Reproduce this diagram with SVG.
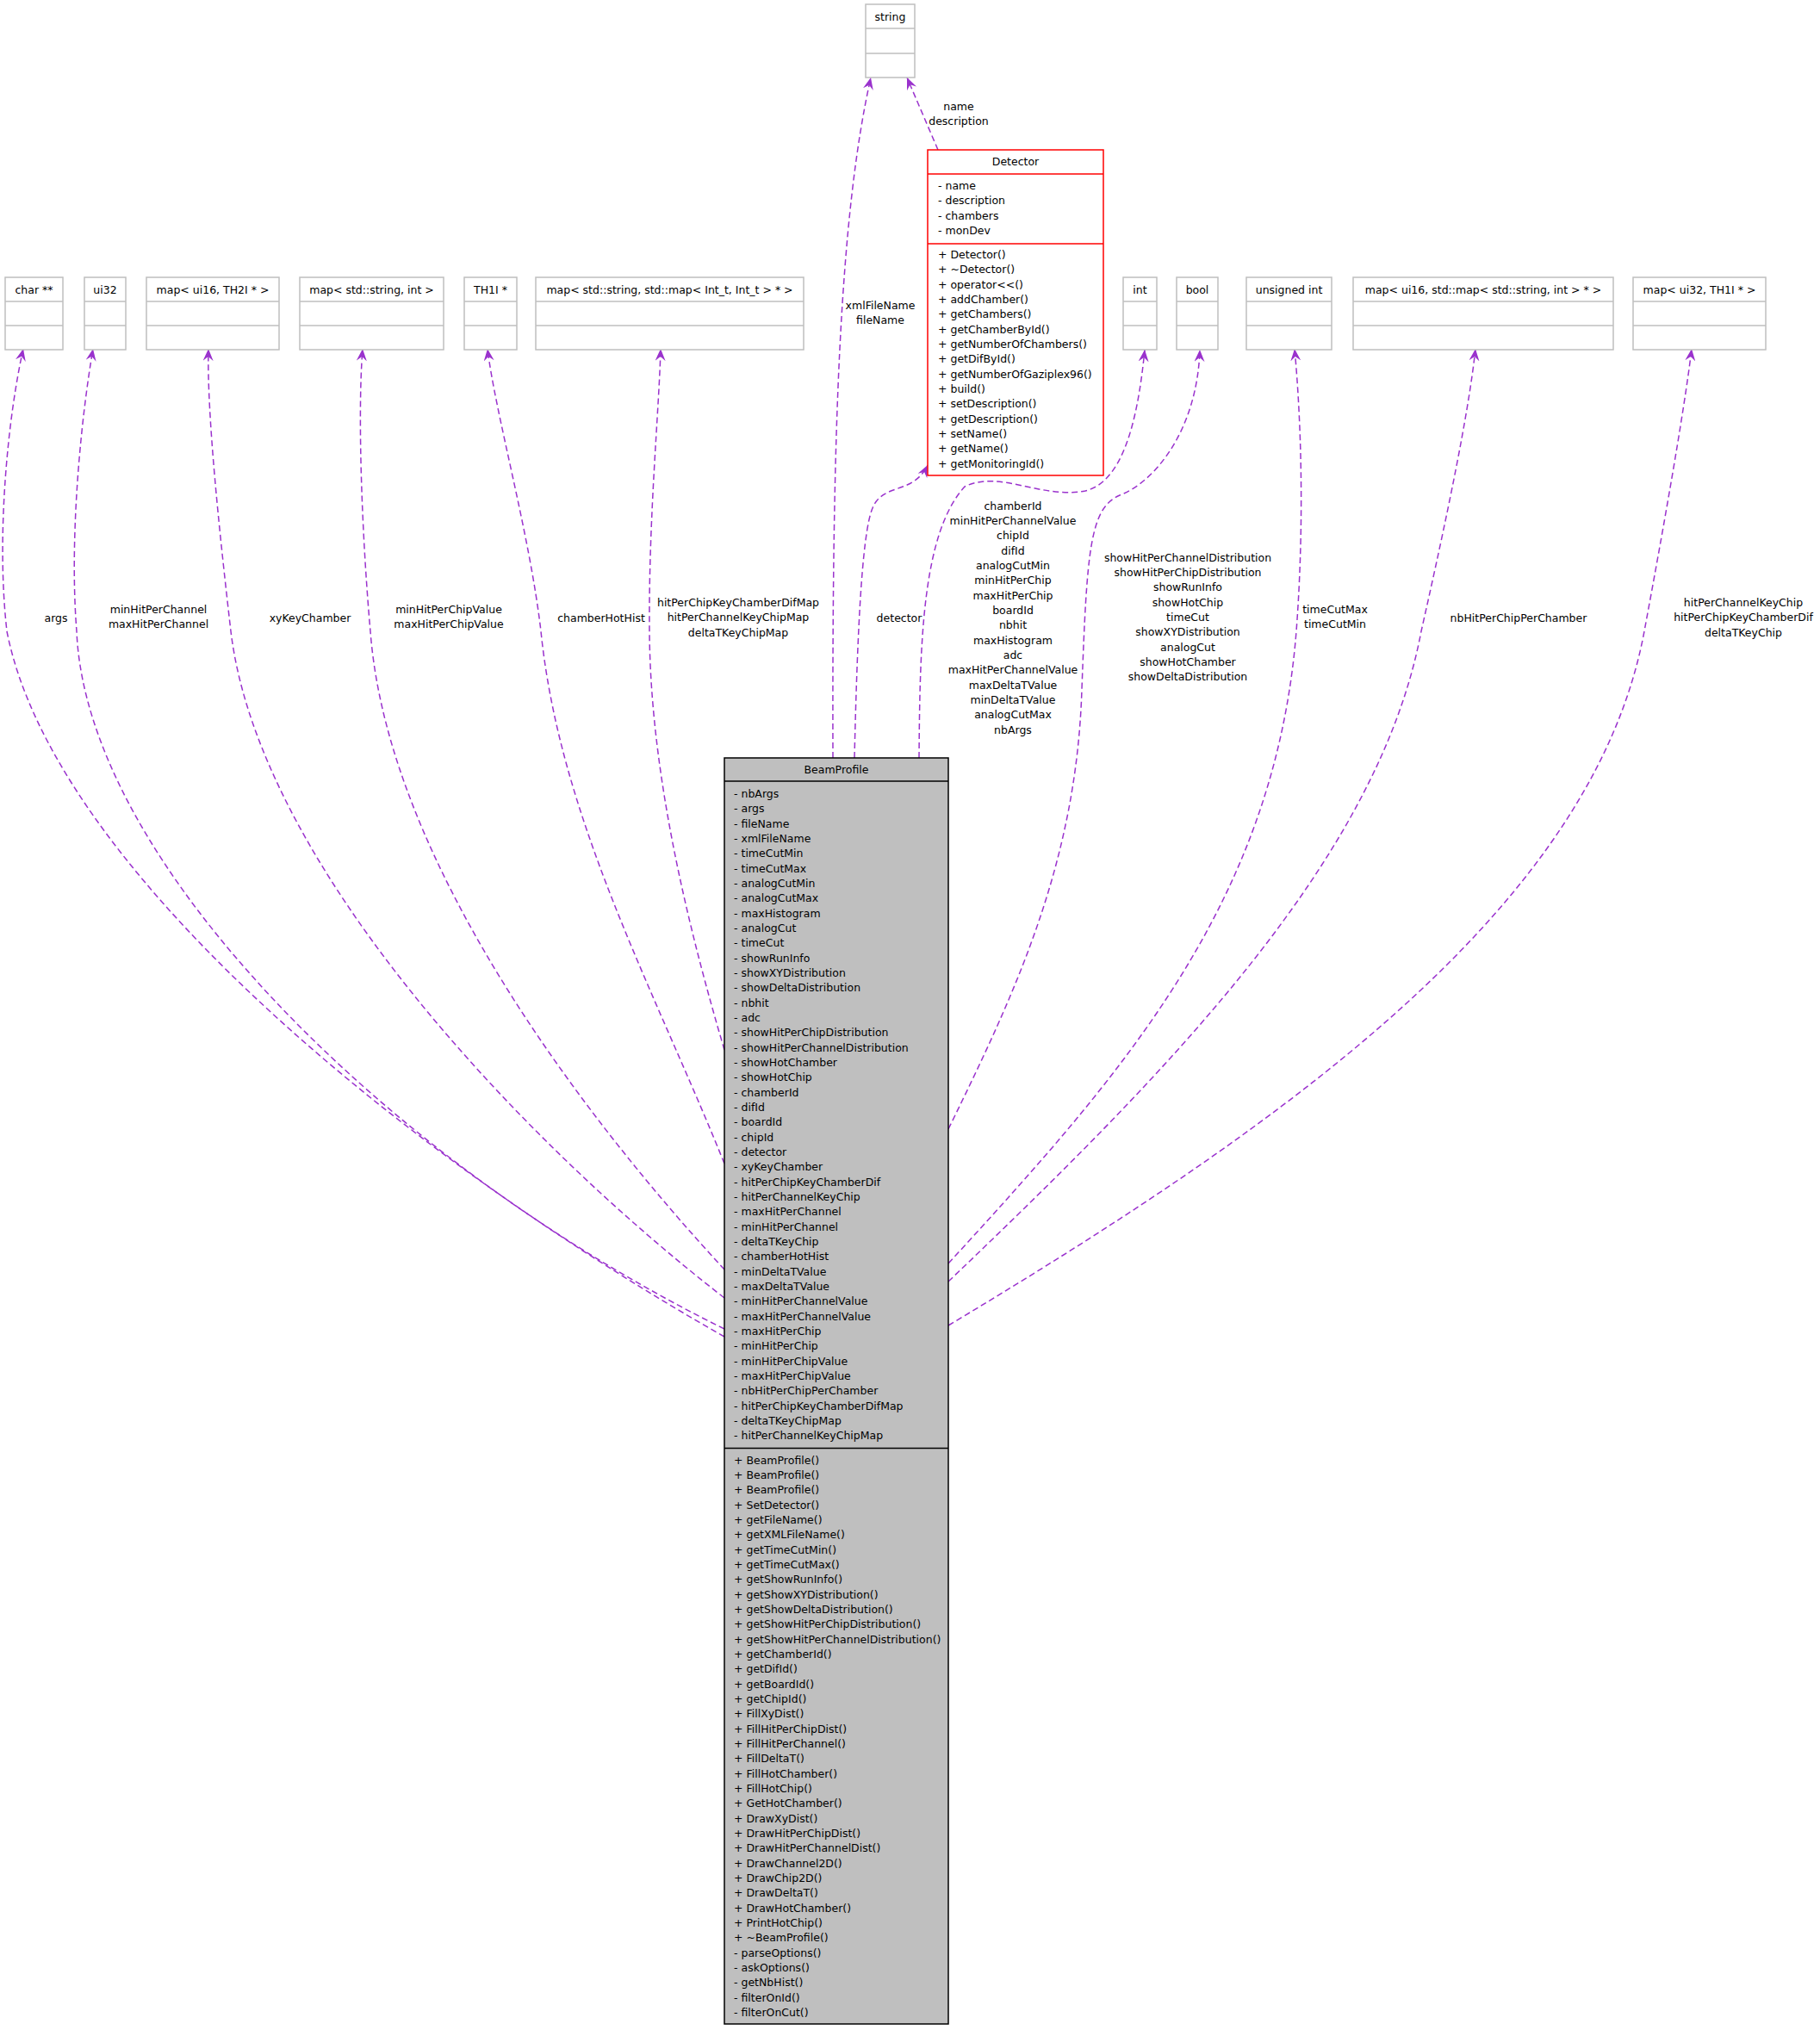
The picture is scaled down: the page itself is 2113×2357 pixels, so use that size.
<svg xmlns="http://www.w3.org/2000/svg" width="2113" height="2357" viewBox="0 0 2113 2357">
<style>
text{font-family:"DejaVu Sans","Liberation Sans",sans-serif;font-size:12.5px;fill:#000}
.c{text-anchor:middle}
.t{fill:#fff;stroke:#bfbfbf;stroke-width:1.5}
.e{fill:none;stroke:#9a32cd;stroke-width:1.5;stroke-dasharray:7,4;marker-end:url(#a)}
</style>
<defs>
<marker id="a" markerUnits="userSpaceOnUse" markerWidth="16" markerHeight="12" refX="14" refY="6" orient="auto">
<path d="M0,0 L14,6 L0,12 L5,6 z" fill="#9a32cd"/>
</marker>
</defs>
<rect width="2113" height="2357" fill="#fff"/>
<g id="edges">
<path class="e" d="M841,1552 C450,1330 60,1000 8,733 C-5,620 10,480 27,405"/>
<path class="e" d="M841,1543 C450,1350 100,1000 89,733 C80,620 95,480 108,405"/>
<path class="e" d="M841,1507 C600,1320 300,1000 268,733 C255,620 240,480 242,405"/>
<path class="e" d="M841,1474 C680,1300 450,1000 430,733 C420,620 415,480 421,405"/>
<path class="e" d="M841,1351 C760,1150 650,950 628,733 C615,620 575,480 566,405"/>
<path class="e" d="M841,1219 C800,1080 755,900 754,733 C753,600 765,480 767,405"/>
<path class="e" d="M967,880 C966,500 975,250 1011,90"/>
<path class="e" d="M1089,174 L1053,90"/>
<path class="e" d="M992,880 C995,750 1000,620 1013,590 C1025,560 1060,575 1077,540"/>
<path class="e" d="M1067,880 C1068,750 1070,620 1120,565 C1160,545 1210,580 1260,570 C1300,560 1320,500 1329,406"/>
<path class="e" d="M1101,1311 C1180,1150 1250,1000 1256,800 C1262,640 1265,590 1300,575 C1340,560 1390,500 1393,406"/>
<path class="e" d="M1101,1467 C1300,1250 1480,1050 1505,733 C1515,600 1510,480 1503,405"/>
<path class="e" d="M1101,1488 C1350,1250 1600,1000 1650,733 C1680,600 1705,480 1713,405"/>
<path class="e" d="M1101,1539 C1500,1300 1850,1050 1909,733 C1930,620 1955,480 1964,405"/>
</g>
<g id="edge-labels">
<text class="c" x="65" y="721.5">args</text>
<text class="c" x="184" y="711.5">minHitPerChannel</text>
<text class="c" x="184" y="729">maxHitPerChannel</text>
<text class="c" x="360" y="721.5">xyKeyChamber</text>
<text class="c" x="521" y="711.5">minHitPerChipValue</text>
<text class="c" x="521" y="729">maxHitPerChipValue</text>
<text class="c" x="698" y="721.5">chamberHotHist</text>
<text class="c" x="857" y="703.5">hitPerChipKeyChamberDifMap</text>
<text class="c" x="857" y="721">hitPerChannelKeyChipMap</text>
<text class="c" x="857" y="738.5">deltaTKeyChipMap</text>
<text class="c" x="1044" y="721.5">detector</text>
<text class="c" x="1022" y="358.5">xmlFileName</text>
<text class="c" x="1022" y="375.5">fileName</text>
<text class="c" x="1113" y="127.5">name</text>
<text class="c" x="1113" y="144.5">description</text>
<text class="c" x="1176" y="591.5">chamberId</text>
<text class="c" x="1176" y="608.8">minHitPerChannelValue</text>
<text class="c" x="1176" y="626.2">chipId</text>
<text class="c" x="1176" y="643.5">difId</text>
<text class="c" x="1176" y="660.8">analogCutMin</text>
<text class="c" x="1176" y="678.2">minHitPerChip</text>
<text class="c" x="1176" y="695.5">maxHitPerChip</text>
<text class="c" x="1176" y="712.8">boardId</text>
<text class="c" x="1176" y="730.2">nbhit</text>
<text class="c" x="1176" y="747.5">maxHistogram</text>
<text class="c" x="1176" y="764.8">adc</text>
<text class="c" x="1176" y="782.2">maxHitPerChannelValue</text>
<text class="c" x="1176" y="799.5">maxDeltaTValue</text>
<text class="c" x="1176" y="816.8">minDeltaTValue</text>
<text class="c" x="1176" y="834.2">analogCutMax</text>
<text class="c" x="1176" y="851.5">nbArgs</text>
<text class="c" x="1379" y="651.5">showHitPerChannelDistribution</text>
<text class="c" x="1379" y="668.8">showHitPerChipDistribution</text>
<text class="c" x="1379" y="686.2">showRunInfo</text>
<text class="c" x="1379" y="703.5">showHotChip</text>
<text class="c" x="1379" y="720.8">timeCut</text>
<text class="c" x="1379" y="738.2">showXYDistribution</text>
<text class="c" x="1379" y="755.5">analogCut</text>
<text class="c" x="1379" y="772.8">showHotChamber</text>
<text class="c" x="1379" y="790.2">showDeltaDistribution</text>
<text class="c" x="1550" y="711.5">timeCutMax</text>
<text class="c" x="1550" y="729">timeCutMin</text>
<text class="c" x="1763" y="721.5">nbHitPerChipPerChamber</text>
<text class="c" x="2024" y="703.5">hitPerChannelKeyChip</text>
<text class="c" x="2024" y="721">hitPerChipKeyChamberDif</text>
<text class="c" x="2024" y="738.5">deltaTKeyChip</text>
</g>
<g id="string"><rect class="t" x="1005" y="5" width="57" height="85"/><line class="t" x1="1005" y1="33" x2="1062" y2="33"/><line class="t" x1="1005" y1="62" x2="1062" y2="62"/><text class="c" x="1033.5" y="23.5">string</text></g>
<g id="t_char"><rect class="t" x="6" y="322" width="67" height="84"/><line class="t" x1="6" y1="350" x2="73" y2="350"/><line class="t" x1="6" y1="378" x2="73" y2="378"/><text class="c" x="39.5" y="340.5">char **</text></g>
<g id="t_ui32"><rect class="t" x="98" y="322" width="48" height="84"/><line class="t" x1="98" y1="350" x2="146" y2="350"/><line class="t" x1="98" y1="378" x2="146" y2="378"/><text class="c" x="122" y="340.5">ui32</text></g>
<g id="t_map_ui16_th2i"><rect class="t" x="170" y="322" width="154" height="84"/><line class="t" x1="170" y1="350" x2="324" y2="350"/><line class="t" x1="170" y1="378" x2="324" y2="378"/><text class="c" x="247" y="340.5">map&lt; ui16, TH2I * &gt;</text></g>
<g id="t_map_str_int"><rect class="t" x="348" y="322" width="167" height="84"/><line class="t" x1="348" y1="350" x2="515" y2="350"/><line class="t" x1="348" y1="378" x2="515" y2="378"/><text class="c" x="431.5" y="340.5">map&lt; std::string, int &gt;</text></g>
<g id="t_th1i"><rect class="t" x="539" y="322" width="61" height="84"/><line class="t" x1="539" y1="350" x2="600" y2="350"/><line class="t" x1="539" y1="378" x2="600" y2="378"/><text class="c" x="569.5" y="340.5">TH1I *</text></g>
<g id="t_map_str_map"><rect class="t" x="622" y="322" width="311" height="84"/><line class="t" x1="622" y1="350" x2="933" y2="350"/><line class="t" x1="622" y1="378" x2="933" y2="378"/><text class="c" x="777.5" y="340.5">map&lt; std::string, std::map&lt; Int_t, Int_t &gt; * &gt;</text></g>
<g id="t_int"><rect class="t" x="1304" y="322" width="39" height="84"/><line class="t" x1="1304" y1="350" x2="1343" y2="350"/><line class="t" x1="1304" y1="378" x2="1343" y2="378"/><text class="c" x="1323.5" y="340.5">int</text></g>
<g id="t_bool"><rect class="t" x="1366" y="322" width="48" height="84"/><line class="t" x1="1366" y1="350" x2="1414" y2="350"/><line class="t" x1="1366" y1="378" x2="1414" y2="378"/><text class="c" x="1390" y="340.5">bool</text></g>
<g id="t_uint"><rect class="t" x="1447" y="322" width="99" height="84"/><line class="t" x1="1447" y1="350" x2="1546" y2="350"/><line class="t" x1="1447" y1="378" x2="1546" y2="378"/><text class="c" x="1496.5" y="340.5">unsigned int</text></g>
<g id="t_map_ui16_map"><rect class="t" x="1571" y="322" width="302" height="84"/><line class="t" x1="1571" y1="350" x2="1873" y2="350"/><line class="t" x1="1571" y1="378" x2="1873" y2="378"/><text class="c" x="1722" y="340.5">map&lt; ui16, std::map&lt; std::string, int &gt; * &gt;</text></g>
<g id="t_map_ui32"><rect class="t" x="1896" y="322" width="154" height="84"/><line class="t" x1="1896" y1="350" x2="2050" y2="350"/><line class="t" x1="1896" y1="378" x2="2050" y2="378"/><text class="c" x="1973" y="340.5">map&lt; ui32, TH1I * &gt;</text></g>
<g id="Detector">
<rect x="1077" y="174" width="204" height="378" fill="#fff" stroke="#ff0000" stroke-width="1.5"/>
<line x1="1077" y1="202" x2="1281" y2="202" stroke="#ff0000" stroke-width="1.5"/>
<line x1="1077" y1="283" x2="1281" y2="283" stroke="#ff0000" stroke-width="1.5"/>
<text class="c" x="1179" y="192">Detector</text>
<text x="1089" y="220">- name</text>
<text x="1089" y="237.3">- description</text>
<text x="1089" y="254.6">- chambers</text>
<text x="1089" y="272">- monDev</text>
<text x="1089" y="299.8">+ Detector()</text>
<text x="1089" y="317.1">+ ~Detector()</text>
<text x="1089" y="334.5">+ operator&lt;&lt;()</text>
<text x="1089" y="351.8">+ addChamber()</text>
<text x="1089" y="369.2">+ getChambers()</text>
<text x="1089" y="386.5">+ getChamberById()</text>
<text x="1089" y="403.8">+ getNumberOfChambers()</text>
<text x="1089" y="421.2">+ getDifById()</text>
<text x="1089" y="438.5">+ getNumberOfGaziplex96()</text>
<text x="1089" y="455.9">+ build()</text>
<text x="1089" y="473.2">+ setDescription()</text>
<text x="1089" y="490.6">+ getDescription()</text>
<text x="1089" y="507.9">+ setName()</text>
<text x="1089" y="525.2">+ getName()</text>
<text x="1089" y="542.6">+ getMonitoringId()</text>
</g>
<g id="BeamProfile">
<rect x="841" y="880" width="260" height="1470" fill="#bfbfbf" stroke="#000" stroke-width="1.5"/>
<line x1="841" y1="907" x2="1101" y2="907" stroke="#000" stroke-width="1.5"/>
<line x1="841" y1="1681.5" x2="1101" y2="1681.5" stroke="#000" stroke-width="1.5"/>
<text class="c" x="971" y="897.5">BeamProfile</text>
<text x="852" y="926">- nbArgs</text>
<text x="852" y="943.3">- args</text>
<text x="852" y="960.7">- fileName</text>
<text x="852" y="978">- xmlFileName</text>
<text x="852" y="995.3">- timeCutMin</text>
<text x="852" y="1012.7">- timeCutMax</text>
<text x="852" y="1030">- analogCutMin</text>
<text x="852" y="1047.3">- analogCutMax</text>
<text x="852" y="1064.7">- maxHistogram</text>
<text x="852" y="1082">- analogCut</text>
<text x="852" y="1099.3">- timeCut</text>
<text x="852" y="1116.7">- showRunInfo</text>
<text x="852" y="1134">- showXYDistribution</text>
<text x="852" y="1151.3">- showDeltaDistribution</text>
<text x="852" y="1168.7">- nbhit</text>
<text x="852" y="1186">- adc</text>
<text x="852" y="1203.3">- showHitPerChipDistribution</text>
<text x="852" y="1220.7">- showHitPerChannelDistribution</text>
<text x="852" y="1238">- showHotChamber</text>
<text x="852" y="1255.3">- showHotChip</text>
<text x="852" y="1272.7">- chamberId</text>
<text x="852" y="1290">- difId</text>
<text x="852" y="1307.3">- boardId</text>
<text x="852" y="1324.7">- chipId</text>
<text x="852" y="1342">- detector</text>
<text x="852" y="1359.3">- xyKeyChamber</text>
<text x="852" y="1376.7">- hitPerChipKeyChamberDif</text>
<text x="852" y="1394">- hitPerChannelKeyChip</text>
<text x="852" y="1411.3">- maxHitPerChannel</text>
<text x="852" y="1428.7">- minHitPerChannel</text>
<text x="852" y="1446">- deltaTKeyChip</text>
<text x="852" y="1463.3">- chamberHotHist</text>
<text x="852" y="1480.7">- minDeltaTValue</text>
<text x="852" y="1498">- maxDeltaTValue</text>
<text x="852" y="1515.3">- minHitPerChannelValue</text>
<text x="852" y="1532.7">- maxHitPerChannelValue</text>
<text x="852" y="1550">- maxHitPerChip</text>
<text x="852" y="1567.3">- minHitPerChip</text>
<text x="852" y="1584.7">- minHitPerChipValue</text>
<text x="852" y="1602">- maxHitPerChipValue</text>
<text x="852" y="1619.3">- nbHitPerChipPerChamber</text>
<text x="852" y="1636.7">- hitPerChipKeyChamberDifMap</text>
<text x="852" y="1654">- deltaTKeyChipMap</text>
<text x="852" y="1671.3">- hitPerChannelKeyChipMap</text>
<text x="852" y="1699.5">+ BeamProfile()</text>
<text x="852" y="1716.8">+ BeamProfile()</text>
<text x="852" y="1734.2">+ BeamProfile()</text>
<text x="852" y="1751.5">+ SetDetector()</text>
<text x="852" y="1768.9">+ getFileName()</text>
<text x="852" y="1786.2">+ getXMLFileName()</text>
<text x="852" y="1803.5">+ getTimeCutMin()</text>
<text x="852" y="1820.9">+ getTimeCutMax()</text>
<text x="852" y="1838.2">+ getShowRunInfo()</text>
<text x="852" y="1855.6">+ getShowXYDistribution()</text>
<text x="852" y="1872.9">+ getShowDeltaDistribution()</text>
<text x="852" y="1890.2">+ getShowHitPerChipDistribution()</text>
<text x="852" y="1907.6">+ getShowHitPerChannelDistribution()</text>
<text x="852" y="1924.9">+ getChamberId()</text>
<text x="852" y="1942.3">+ getDifId()</text>
<text x="852" y="1959.6">+ getBoardId()</text>
<text x="852" y="1976.9">+ getChipId()</text>
<text x="852" y="1994.3">+ FillXyDist()</text>
<text x="852" y="2011.6">+ FillHitPerChipDist()</text>
<text x="852" y="2029">+ FillHitPerChannel()</text>
<text x="852" y="2046.3">+ FillDeltaT()</text>
<text x="852" y="2063.6">+ FillHotChamber()</text>
<text x="852" y="2081">+ FillHotChip()</text>
<text x="852" y="2098.3">+ GetHotChamber()</text>
<text x="852" y="2115.7">+ DrawXyDist()</text>
<text x="852" y="2133">+ DrawHitPerChipDist()</text>
<text x="852" y="2150.3">+ DrawHitPerChannelDist()</text>
<text x="852" y="2167.7">+ DrawChannel2D()</text>
<text x="852" y="2185">+ DrawChip2D()</text>
<text x="852" y="2202.4">+ DrawDeltaT()</text>
<text x="852" y="2219.7">+ DrawHotChamber()</text>
<text x="852" y="2237">+ PrintHotChip()</text>
<text x="852" y="2254.4">+ ~BeamProfile()</text>
<text x="852" y="2271.7">- parseOptions()</text>
<text x="852" y="2289.1">- askOptions()</text>
<text x="852" y="2306.4">- getNbHist()</text>
<text x="852" y="2323.7">- filterOnId()</text>
<text x="852" y="2341.1">- filterOnCut()</text>
</g>
</svg>
